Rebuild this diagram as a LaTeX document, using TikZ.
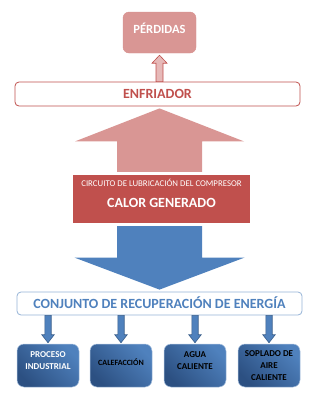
\documentclass[tikz,border=0pt]{standalone}
\usepackage{fontspec}
\setmainfont{Carlito}
\usetikzlibrary{calc, positioning}
\definecolor{rojo}{RGB}{192,80,77}
\definecolor{rosa}{RGB}{217,150,148}
\definecolor{rosaclaro}{RGB}{230,185,184}
\definecolor{azul}{RGB}{79,129,189}
\definecolor{azuloscuro}{RGB}{44,80,130}
\definecolor{azulborde}{RGB}{56,93,138}
\definecolor{azulclaro}{RGB}{149,179,215}

% vertical block arrow: [style]{from}{tip}{shaft half width}{head half width}{head length}
\newcommand{\flechabloque}[6][]{%
  \path[#1] let \p1=(#2), \p2=(#3), \n1={sign(\y2-\y1)} in
    (\x1-#4,\y1) -- (\x1-#4,\y2-\n1*#6) -- (\x1-#5,\y2-\n1*#6) -- (\x1,\y2)
    -- (\x1+#5,\y2-\n1*#6) -- (\x1+#4,\y2-\n1*#6) -- (\x1+#4,\y1) -- cycle;}

\begin{document}
\begin{tikzpicture}[
  x=1pt, y=-1pt,
  barra/.style={rectangle, rounded corners=4pt, fill=white, line width=0.8pt, minimum width=285pt, text height=9.1pt, text depth=0pt, font=\fontsize{14}{16}\selectfont\bfseries},
  destino/.style={rectangle, rounded corners=7pt, minimum width=62pt, minimum height=43pt, inner sep=1pt, align=center,
    draw=azulclaro!80, line width=0.5pt, top color=azul, bottom color=azuloscuro, shading angle=-45,
    font=\fontsize{9}{12}\selectfont\bfseries}
]
  \useasboundingbox (0,0) rectangle (321,416);
  \node[rectangle, rounded corners=6pt, fill=rosa, draw=rosa!90!rojo, minimum width=73pt, minimum height=41pt, text=white,
    text height=8.1pt, text depth=7pt, font=\fontsize{12.5}{15}\selectfont\bfseries] (perd) at (159.5,32.5) {PÉRDIDAS};
  \node[barra, draw=rojo, text=rojo, minimum height=24pt] (enfr) at (157.5,94) {ENFRIADOR};
  \node[rectangle, fill=rojo, minimum width=177pt, minimum height=48pt, text=white, text height=17pt, text depth=0pt,
    font=\fontsize{14}{16}\selectfont\bfseries] (calor) at (161.5,199) {CALOR GENERADO};
  \node[text=white, inner sep=0pt, font=\fontsize{8.8}{10}\selectfont] (circ) at ($(calor.north)+(0,8)$) {CIRCUITO DE LUBRICACIÓN DEL COMPRESOR};
  \node[barra, draw=azulclaro, text=azul, minimum height=23pt] (conj) at (159.5,303.5) {CONJUNTO DE RECUPERACIÓN DE ENERGÍA};
  % usos del calor recuperado
  \node[destino, text=white, text depth=9pt] (proc) at (48,365.5) {PROCESO\\INDUSTRIAL};
  \node[destino, text depth=6pt, font=\fontsize{8}{10}\selectfont\bfseries] (calef) at (121,365.5) {CALEFACCIÓN};
  \node[destino, text depth=9pt] (agua) at (195,365.5) {AGUA\\CALIENTE};
  \node[destino] (sopl) at (269,365.5) {SOPLADO DE\\AIRE\\CALIENTE};
  % flechas
  \flechabloque[fill=rosaclaro, draw=rojo, line width=0.6pt]{perd.south |- enfr.north}{$(perd.south)+(0,2)$}{3.5pt}{7.5pt}{8pt}
  \flechabloque[fill=rosa]{$(calor.north)+(-2,-3)$}{$(enfr.south)+(2,2)$}{42.5pt}{84.5pt}{33pt}
  \flechabloque[fill=azul]{$(calor.south)+(-2,3)$}{$(conj.north)+(0,-2)$}{42.5pt}{85pt}{32pt}
  \foreach \d in {proc, calef, agua, sopl}{
    \flechabloque[fill=azul, draw=azulborde, line width=0.6pt]{\d.north |- conj.south}{$(\d.north)+(0,-1)$}{3.2pt}{6.2pt}{8pt}
  }
\end{tikzpicture}
\end{document}
